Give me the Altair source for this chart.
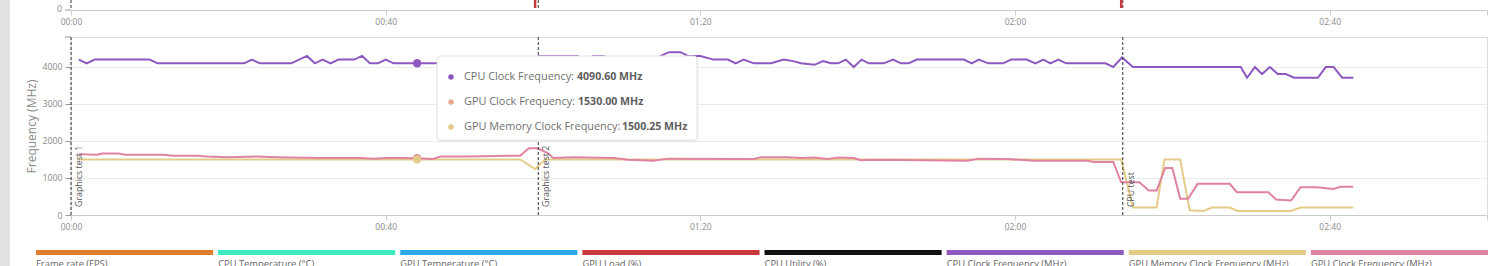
import altair as alt
import pandas as pd

# ---------------- data ----------------
series_names = [
    "Frame rate (FPS)", "CPU Temperature (°C)", "GPU Temperature (°C)", "GPU Load (%)",
    "CPU Utility (%)", "CPU Clock Frequency (MHz)", "GPU Memory Clock Frequency (MHz)",
    "GPU Clock Frequency (MHz)",
]
series_colors = ["#e07c2c", "#3cebc0", "#2aa8e8", "#c9383b", "#111111", "#8f58c1", "#e4cb88", "#e083a2"]

cpu_t = [1, 2, 3, 10, 11, 22, 23, 24, 28, 30, 31, 32, 33, 34, 36, 37, 38, 39, 40, 41, 58, 59.5,
         64.4, 65.4, 66.4, 67.7, 68.7, 74, 75, 76, 77.5, 78.4, 80, 81.7, 83.5, 84.5, 85.5, 86.8,
         89, 90.6, 91.8, 92.8, 94.5, 95.6, 96.6, 97.5, 98.5, 99.5, 100.5, 101.4, 103.3, 104.5,
         105.5, 106.5, 107.5, 113.5, 114.5, 115.4, 116.6, 118.5, 119.5, 121.5, 122.6, 123.6,
         124.5, 125.5, 126.5, 131.5, 132.5, 133.6, 135, 148.7, 149.5, 150.5, 151.4, 152.4,
         153.4, 154.4, 155.5, 158.5, 159.5, 160.5, 161.6, 163]
cpu_v = [4190, 4090, 4190, 4190, 4090, 4090, 4190, 4090, 4090, 4290, 4090, 4190, 4090, 4190,
         4190, 4290, 4090, 4090, 4190, 4090, 4090, 4290, 4290, 4190, 4290, 4290, 4190, 4190,
         4290, 4390, 4390, 4290, 4290, 4190, 4190, 4090, 4190, 4090, 4090, 4190, 4150, 4090,
         4050, 4150, 4090, 4090, 4190, 3990, 4190, 4090, 4090, 4190, 4090, 4090, 4190, 4190,
         4090, 4190, 4090, 4090, 4190, 4190, 4090, 4190, 4090, 4190, 4090, 4090, 3990, 4250,
         3990, 3990, 3700, 3990, 3800, 3990, 3800, 3800, 3700, 3700, 3990, 3990, 3700, 3700]

gpu_t = [1, 3.3, 4, 6, 6.9, 11.7, 13, 16, 17.3, 19.9, 23.7, 26.2, 27.9, 31.7, 36.8, 38.4, 40.2,
         41.9, 44, 46, 47, 50.4, 57.1, 58.2, 59.3, 60.6, 61.3, 63.9, 69, 70.8, 74, 75.9, 86.8,
         87.7, 91, 92.8, 94.5, 96.2, 97.5, 99.5, 100.4, 102.6, 114, 115.4, 119, 122.4, 129.3,
         130, 132.5, 133.5, 135.8, 137, 138, 139.1, 140, 141, 142, 143.2, 147.3, 148.2, 152.2,
         153.2, 155.1, 156.3, 158.3, 160.5, 161.4, 163]
gpu_v = [1640, 1625, 1660, 1660, 1625, 1625, 1600, 1600, 1580, 1560, 1580, 1560, 1550, 1535,
         1535, 1520, 1535, 1535, 1530, 1510, 1580, 1580, 1600, 1800, 1800, 1670, 1535, 1560,
         1535, 1490, 1465, 1520, 1510, 1560, 1560, 1535, 1550, 1510, 1550, 1535, 1475, 1490,
         1465, 1520, 1510, 1465, 1465, 1430, 1430, 880, 880, 660, 660, 1270, 1270, 440, 440,
         840, 840, 615, 615, 420, 390, 750, 750, 700, 760, 760]

mem_t = [1, 57.1, 59, 60.3, 133.5, 135, 138, 139, 141, 142.2, 144, 145, 147.3, 148.3, 155.1,
         156.3, 163]
mem_v = [1500, 1500, 1240, 1500, 1500, 200, 200, 1500, 1500, 125, 110, 200, 200, 110, 110,
         200, 200]

marker_t = [0, 59.4, 133.7]
marker_labels = ["Graphics test 1", "Graphics test 2", "CPU test"]

prev_chart_t = [59.0, 133.5]  # red spikes of the chart above (cut off)

hover_t = 44
hover_series = ["CPU Clock Frequency", "GPU Clock Frequency", "GPU Memory Clock Frequency"]
hover_values = [4090.60, 1530.00, 1500.25]
hover_colors = ["#8f58c1", "#e9a88e", "#e6c886"]

x_ticks = [0, 40, 80, 120, 160, 180]
y_grid = [0, 500, 1000, 1500, 2000, 2500, 3000, 3500, 4000, 4500]

FONT = "Open Sans"
W, H = 1416, 178

# ---------------- frames ----------------
rows = []
for name, ts, vs in [("CPU Clock Frequency (MHz)", cpu_t, cpu_v),
                     ("GPU Memory Clock Frequency (MHz)", mem_t, mem_v),
                     ("GPU Clock Frequency (MHz)", gpu_t, gpu_v)]:
    for t, v in zip(ts, vs):
        rows.append({"series": name, "t": t, "v": v})
df_lines = pd.DataFrame(rows)

df_markers = pd.DataFrame({"t": marker_t, "label": marker_labels})
df_prev = pd.DataFrame({"t": prev_chart_t})
df_hover = pd.DataFrame({
    "t": [hover_t] * 3,
    "v": [hover_values[0], hover_values[1], hover_values[2]],
    "series": ["CPU Clock Frequency (MHz)", "GPU Clock Frequency (MHz)", "GPU Memory Clock Frequency (MHz)"],
})
df_legend = pd.DataFrame({"name": series_names})

color_scale = alt.Scale(domain=series_names, range=series_colors)
x_scale = alt.Scale(domain=[0, 180], nice=False, zero=False)
y_scale = alt.Scale(domain=[0, 4800], nice=False)

time_label = "datum.value >= 180 ? '' : utcFormat(datum.value * 1000, '%M:%S')"

x_axis = alt.Axis(values=x_ticks, labelExpr=time_label, grid=False, title=None,
                  domainColor="#cccccc", tickColor="#cccccc", tickSize=5, labelPadding=2,
                  labelFont=FONT, labelFontSize=8.5, labelColor="#8a8a8a", labelFlush=False)
y_axis = alt.Axis(values=y_grid,
                  labelExpr="datum.value % 1000 === 0 ? format(datum.value, 'd') : ''",
                  tickOpacity={"expr": "datum.value % 1000 === 0 ? 1 : 0"},
                  grid=True, gridColor="#ececec", domain=False, tickColor="#999999", tickSize=6,
                  labelPadding=3, labelFont=FONT, labelFontSize=8.8, labelColor="#8a8a8a",
                  title="Frequency (MHz)", titleFont=FONT, titleFontSize=12,
                  titleFontWeight="normal", titleColor="#8a8a8a", titlePadding=3)

# ---------------- main plot ----------------
lines = alt.Chart(df_lines).mark_line(strokeWidth=2).encode(
    x=alt.X("t:Q", scale=x_scale, axis=x_axis),
    y=alt.Y("v:Q", scale=y_scale, axis=y_axis),
    color=alt.Color("series:N", scale=color_scale, legend=None),
    order=alt.Order("t:Q"),
)

markers = alt.Chart(df_markers).mark_rule(strokeDash=[3, 2], color="#333333", strokeWidth=1).encode(
    x="t:Q"
)
marker_text = alt.Chart(df_markers).mark_text(
    angle=270, align="left", baseline="middle", xOffset=8, font=FONT, fontSize=8.8, color="#555555"
).encode(x="t:Q", y=alt.value(170), text="label:N")

hover_pts = alt.Chart(df_hover).mark_circle(size=70, opacity=1).encode(
    x="t:Q", y="v:Q", color=alt.Color("series:N", scale=color_scale, legend=None)
)

main = alt.layer(lines, markers, marker_text, hover_pts)

# ---------------- tooltip ----------------
tip_shadow = alt.Chart(pd.DataFrame({"a": [0]})).mark_rect(
    fill="#000000", opacity=0.04, cornerRadius=4
).encode(x=alt.value(365), x2=alt.value(628), y=alt.value(19), y2=alt.value(105))
tip_box = alt.Chart(pd.DataFrame({"a": [0]})).mark_rect(
    fill="white", stroke="#e3e3e3", strokeWidth=1, cornerRadius=3
).encode(x=alt.value(366), x2=alt.value(626), y=alt.value(19), y2=alt.value(103))

tip_layers = [tip_shadow, tip_box]
row_y = [40, 65, 90]
value_x = [506, 507, 551]
for i in range(3):
    tip_layers.append(alt.Chart(pd.DataFrame({"a": [0]})).mark_circle(size=30, opacity=1, color=hover_colors[i]).encode(
        x=alt.value(380), y=alt.value(row_y[i])))
    tip_layers.append(alt.Chart(pd.DataFrame({"a": [0]})).mark_text(
        align="left", baseline="middle", font=FONT, fontSize=10.9, color="#707070", text=hover_series[i] + ":"
    ).encode(x=alt.value(393), y=alt.value(row_y[i])))
    tip_layers.append(alt.Chart(pd.DataFrame({"a": [0]})).mark_text(
        align="left", baseline="middle", font=FONT, fontSize=10.6, fontWeight="bold", color="#5e5e5e",
        text=f"{hover_values[i]:.2f} MHz"
    ).encode(x=alt.value(value_x[i]), y=alt.value(row_y[i])))
tooltip = alt.layer(*tip_layers)

# ---------------- strip of the chart above ----------------
top_axis = alt.Axis(values=x_ticks, labelExpr=time_label, grid=False, title=None, orient="bottom",
                    offset=-205, domainColor="#cccccc", tickColor="#cccccc", tickSize=5,
                    labelPadding=2, labelFont=FONT, labelFontSize=8.5, labelColor="#8a8a8a",
                    labelFlush=False)
top_marks = alt.Chart(df_markers).mark_rule(strokeDash=[3, 2], color="#333333", strokeWidth=1).encode(
    x=alt.X("t:Q", scale=alt.Scale(domain=[0, 180], nice=False, zero=False), axis=top_axis),
    y=alt.value(-37), y2=alt.value(-27),
)
top_red = alt.Chart(df_prev).mark_rule(color="#c9383b", strokeWidth=2.5).encode(
    x="t:Q", y=alt.value(-37), y2=alt.value(-29)
)
top_zero = alt.Chart(pd.DataFrame({"a": [0]})).mark_text(
    align="right", baseline="middle", font=FONT, fontSize=8.8, color="#8a8a8a", text="0"
).encode(x=alt.value(-9), y=alt.value(-28))
top_tick = alt.Chart(pd.DataFrame({"a": [0]})).mark_rule(color="#999999").encode(
    x=alt.value(-6), x2=alt.value(0), y=alt.value(-27)
)
# small tick at the top end of the frequency axis
y_top_tick = alt.Chart(pd.DataFrame({"a": [0]})).mark_rule(color="#999999").encode(
    x=alt.value(-6), x2=alt.value(0), y=alt.value(0)
)
top = alt.layer(top_marks, top_red, top_zero, top_tick, y_top_tick)

# ---------------- legend ----------------
legend_x = alt.Scale(domain=series_names, range=[-35, 1417], paddingInner=5 / 182.1, paddingOuter=0)
legend_bars = alt.Chart(df_legend).mark_rect().encode(
    x=alt.X("name:N", scale=legend_x, axis=None, sort=series_names),
    y=alt.value(213), y2=alt.value(218),
    color=alt.Color("name:N", scale=color_scale, legend=None),
)
legend_text = alt.Chart(df_legend).mark_text(
    align="left", baseline="top", font=FONT, fontSize=9.4, color="#666666"
).encode(
    x=alt.X("name:N", scale=legend_x, axis=None, sort=series_names, bandPosition=0),
    y=alt.value(223), text="name:N",
)
legend = alt.layer(legend_bars, legend_text)

# ---------------- page edge ----------------
edge = alt.Chart(pd.DataFrame({"a": [0]})).mark_rect(color="#e2e2e2").encode(
    x=alt.value(-71), x2=alt.value(-61), y=alt.value(-37), y2=alt.value(229)
)

chart = alt.layer(main, top, legend, tooltip, edge).resolve_scale(x="independent").properties(
    width=W, height=H,
    padding={"left": 71, "top": 37, "right": 3, "bottom": 51},
    autosize=alt.AutoSizeParams(type="none"),
).configure_view(stroke=None).configure(font=FONT)

chart.save("out.html", embed_options={"renderer": "svg", "actions": False})
